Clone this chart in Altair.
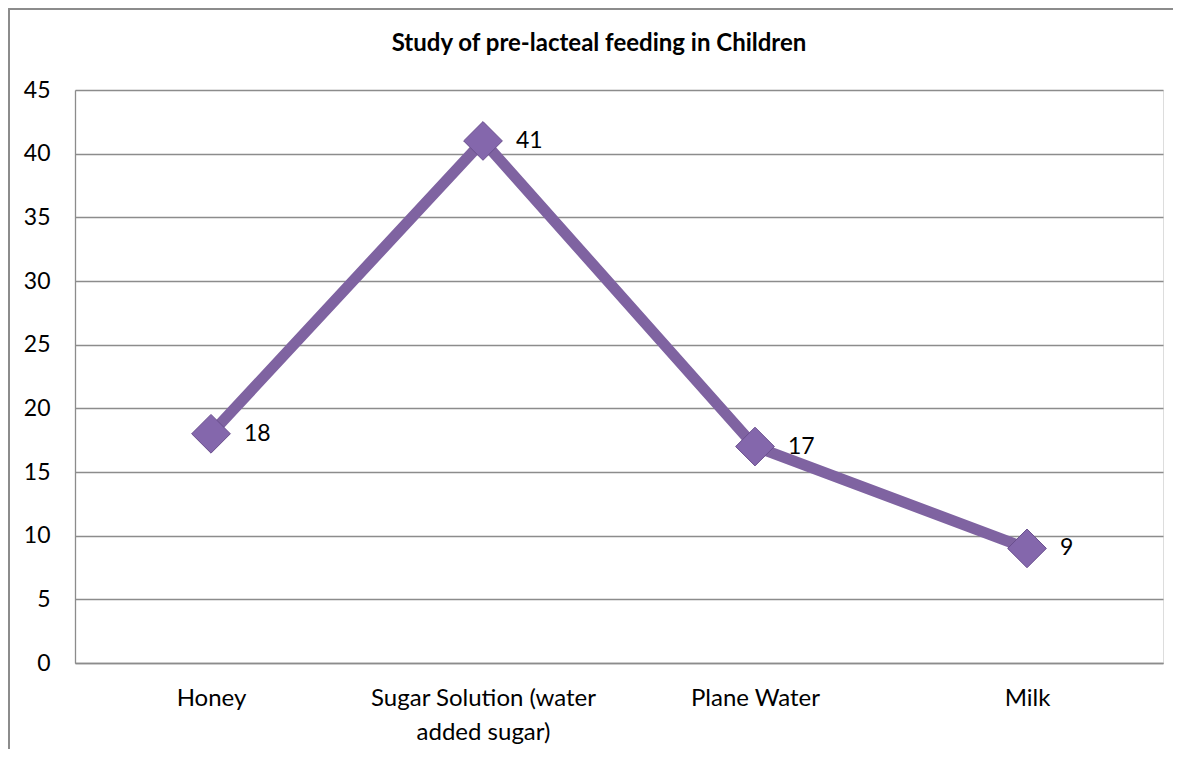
import altair as alt
import pandas as pd

categories = ["Honey", "Sugar Solution (water added sugar)", "Plane Water", "Milk"]
values = [18, 41, 17, 9]
title_text = "Study of pre-lacteal feeding in Children"

df = pd.DataFrame({"category": categories, "value": values})
df_title = pd.DataFrame({"t": [title_text]})

W, H = 1088, 573
FONT = "Lato"
FS = 23
PURPLE = "#7F63A1"

x_enc = alt.X("category:N", sort=categories,
              scale=alt.Scale(type="point", padding=0.5),
              axis=alt.Axis(title=None, labelAngle=0, labelFontSize=24, labelFont=FONT,
                            labelColor="#000000", ticks=False, domain=True,
                            domainColor="#8C8C8C", domainWidth=1.3, grid=False,
                            labelPadding=35, labelLineHeight=34, labelLimit=0,
                            labelBaseline="middle",
                            labelExpr="datum.value == 'Sugar Solution (water added sugar)' ? ['Sugar Solution (water', 'added sugar)'] : datum.value"))
y_enc = alt.Y("value:Q", scale=alt.Scale(domain=[0, 45], nice=False),
              axis=alt.Axis(title=None, values=list(range(0, 50, 5)), labelFontSize=FS,
                            labelFont=FONT, labelColor="#000000", ticks=False,
                            domain=True, domainColor="#8C8C8C", domainWidth=1.3,
                            gridColor="#8C8C8C", gridWidth=1.3, labelPadding=25))

base = alt.Chart(df).encode(x=x_enc, y=y_enc)

frame = alt.Chart(df).mark_rect(fill=None, stroke="#8C8C8C", strokeWidth=1.5).encode(
    x=alt.value(-66), x2=alt.value(W + 60), y=alt.value(-81), y2=alt.value(H + 200)
)

title = alt.Chart(df_title).mark_text(fontSize=24, font=FONT, fontWeight="bold",
                                      color="#000000", align="center",
                                      baseline="middle").encode(
    text="t:N", x=alt.value(W / 2 - 20), y=alt.value(-46)
)

line = base.mark_line(color=PURPLE, strokeWidth=11, strokeJoin="miter")
points = base.mark_point(shape="diamond", size=1500, filled=True, fill="#8467AC",
                         stroke="#6A4F8E", strokeWidth=1, opacity=1)
labels = base.mark_text(align="left", baseline="middle", dx=33, fontSize=FS,
                        font=FONT, color="#000000").encode(text="value:Q")

chart = alt.layer(frame, title, line, points, labels).properties(
    width=W, height=H,
    padding={"left": 67, "top": 82, "right": 10, "bottom": 86},
    autosize=alt.AutoSizeParams(type="none"),
).configure_view(stroke=None).configure(background="#ffffff")

chart.save("out.html", embed_options={"renderer": "svg", "actions": False})
